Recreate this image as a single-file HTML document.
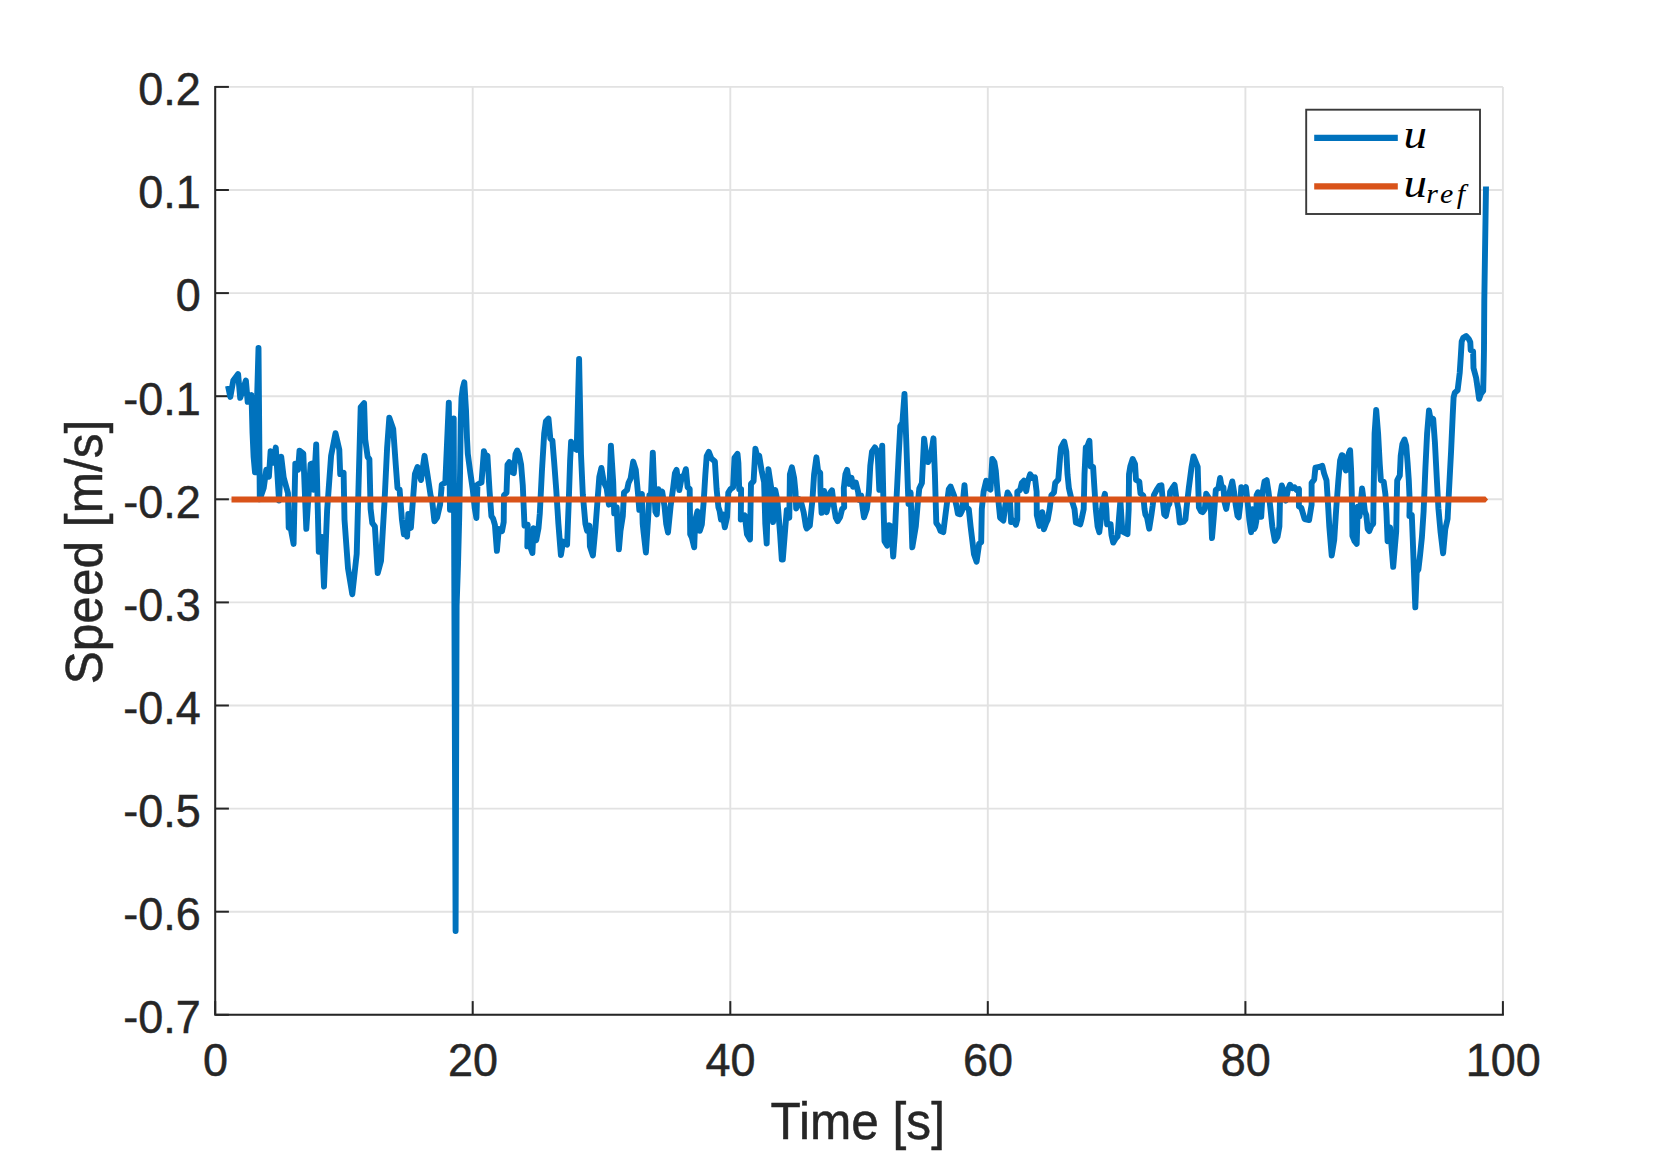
<!DOCTYPE html>
<html><head><meta charset="utf-8"><title>Speed plot</title>
<style>
html,body{margin:0;padding:0;background:#fff;}
body{width:1661px;height:1151px;overflow:hidden;}
svg{display:block;}
text{font-family:"Liberation Sans",sans-serif;fill:#262626;stroke:#262626;stroke-width:0.45px;}
.tk text{font-size:45px;}
.lb{font-size:49.6px;}
.lg text{font-family:"Liberation Serif",serif;font-style:italic;fill:#000;stroke:none;}
</style></head><body>
<svg width="1661" height="1151" viewBox="0 0 1661 1151">
<rect width="1661" height="1151" fill="#fff"/>
<g stroke="#e2e2e2" stroke-width="1.9" fill="none"><line x1="215.2" y1="86.9" x2="215.2" y2="1014.8"/><line x1="472.7" y1="86.9" x2="472.7" y2="1014.8"/><line x1="730.3" y1="86.9" x2="730.3" y2="1014.8"/><line x1="987.8" y1="86.9" x2="987.8" y2="1014.8"/><line x1="1245.4" y1="86.9" x2="1245.4" y2="1014.8"/><line x1="1502.9" y1="86.9" x2="1502.9" y2="1014.8"/><line x1="215.2" y1="86.9" x2="1502.9" y2="86.9"/><line x1="215.2" y1="190.0" x2="1502.9" y2="190.0"/><line x1="215.2" y1="293.1" x2="1502.9" y2="293.1"/><line x1="215.2" y1="396.2" x2="1502.9" y2="396.2"/><line x1="215.2" y1="499.3" x2="1502.9" y2="499.3"/><line x1="215.2" y1="602.4" x2="1502.9" y2="602.4"/><line x1="215.2" y1="705.5" x2="1502.9" y2="705.5"/><line x1="215.2" y1="808.6" x2="1502.9" y2="808.6"/><line x1="215.2" y1="911.7" x2="1502.9" y2="911.7"/><line x1="215.2" y1="1014.8" x2="1502.9" y2="1014.8"/></g>
<g stroke="#262626" stroke-width="2" fill="none"><line x1="215.2" y1="1014.8" x2="215.2" y2="1001.1"/><line x1="472.7" y1="1014.8" x2="472.7" y2="1001.1"/><line x1="730.3" y1="1014.8" x2="730.3" y2="1001.1"/><line x1="987.8" y1="1014.8" x2="987.8" y2="1001.1"/><line x1="1245.4" y1="1014.8" x2="1245.4" y2="1001.1"/><line x1="1502.9" y1="1014.8" x2="1502.9" y2="1001.1"/><line x1="215.2" y1="86.9" x2="228.9" y2="86.9"/><line x1="215.2" y1="190.0" x2="228.9" y2="190.0"/><line x1="215.2" y1="293.1" x2="228.9" y2="293.1"/><line x1="215.2" y1="396.2" x2="228.9" y2="396.2"/><line x1="215.2" y1="499.3" x2="228.9" y2="499.3"/><line x1="215.2" y1="602.4" x2="228.9" y2="602.4"/><line x1="215.2" y1="705.5" x2="228.9" y2="705.5"/><line x1="215.2" y1="808.6" x2="228.9" y2="808.6"/><line x1="215.2" y1="911.7" x2="228.9" y2="911.7"/><line x1="215.2" y1="1014.8" x2="228.9" y2="1014.8"/>
<path d="M215.2,86.9 V1014.8 H1502.9" stroke-linecap="square"/></g>
<g class="tk"><text transform="translate(215.5,1075.8) scale(1,1.025)" text-anchor="middle">0</text><text transform="translate(473.0,1075.8) scale(1,1.025)" text-anchor="middle">20</text><text transform="translate(730.6,1075.8) scale(1,1.025)" text-anchor="middle">40</text><text transform="translate(988.1,1075.8) scale(1,1.025)" text-anchor="middle">60</text><text transform="translate(1245.7,1075.8) scale(1,1.025)" text-anchor="middle">80</text><text transform="translate(1503.2,1075.8) scale(1,1.025)" text-anchor="middle">100</text><text transform="translate(200.8,105.2) scale(1,1.025)" text-anchor="end">0.2</text><text transform="translate(200.8,208.3) scale(1,1.025)" text-anchor="end">0.1</text><text transform="translate(200.8,311.4) scale(1,1.025)" text-anchor="end">0</text><text transform="translate(200.8,414.5) scale(1,1.025)" text-anchor="end">-0.1</text><text transform="translate(200.8,517.6) scale(1,1.025)" text-anchor="end">-0.2</text><text transform="translate(200.8,620.7) scale(1,1.025)" text-anchor="end">-0.3</text><text transform="translate(200.8,723.8) scale(1,1.025)" text-anchor="end">-0.4</text><text transform="translate(200.8,826.9) scale(1,1.025)" text-anchor="end">-0.5</text><text transform="translate(200.8,930.0) scale(1,1.025)" text-anchor="end">-0.6</text><text transform="translate(200.8,1033.1) scale(1,1.025)" text-anchor="end">-0.7</text></g>
<text class="lb" transform="translate(857.7,1138.6) scale(1,1.045)" text-anchor="middle">Time [s]</text>
<text class="lb" transform="translate(102.2,552) rotate(-90) scale(1,1.045)" text-anchor="middle">Speed [m/s]</text>
<path d="M228.0,385.8 L230.3,396.9 L233.3,380.5 L238.1,374.1 L240.2,397.9 L245.9,380.5 L247.7,401.9 L251.5,395.0 L252.5,432.3 L253.6,456.7 L255.0,472.3 L258.5,348.0 L259.8,499.4 L263.7,488.0 L266.3,469.7 L268.9,476.7 L270.6,451.1 L273.2,462.8 L275.8,447.6 L279.0,500.5 L281.2,456.7 L283.7,477.5 L288.0,493.2 L288.7,527.9 L290.8,528.8 L293.6,543.9 L295.3,463.6 L298.1,469.7 L299.5,450.6 L303.3,453.5 L306.3,528.8 L310.6,464.0 L312.9,463.3 L313.7,489.7 L316.2,444.5 L318.8,551.8 L321.9,537.0 L324.0,586.5 L327.1,510.6 L331.1,455.8 L335.5,433.2 L339.3,449.7 L340.2,474.1 L343.6,472.7 L344.5,519.6 L348.0,568.3 L352.3,594.3 L356.7,554.0 L358.4,491.4 L360.7,407.1 L364.1,403.1 L365.2,439.3 L367.6,456.7 L369.4,459.3 L370.6,508.8 L372.3,523.1 L374.9,526.6 L377.7,573.1 L381.0,561.0 L384.5,502.2 L387.1,448.0 L389.3,417.6 L393.2,428.9 L395.8,465.4 L397.5,488.0 L399.6,489.4 L401.9,519.3 L403.9,534.4 L405.3,530.6 L407.1,536.6 L408.3,514.0 L410.9,527.9 L412.3,508.8 L414.9,474.1 L417.5,467.1 L421.0,480.1 L424.5,455.8 L427.4,474.1 L430.5,494.9 L432.3,501.9 L434.4,521.3 L437.1,517.5 L440.1,504.5 L441.8,484.5 L445.3,482.7 L448.8,402.8 L450.0,509.7 L453.7,418.4 L455.6,931.0 L456.6,606.0 L458.0,565.0 L459.2,518.0 L460.1,470.0 L460.7,423.0 L461.5,398.0 L462.8,388.0 L464.3,382.3 L466.0,410.1 L467.0,438.3 L467.8,453.9 L470.3,472.7 L472.8,489.9 L474.8,508.6 L476.4,518.0 L477.5,484.5 L481.5,482.4 L483.9,451.1 L485.6,456.7 L487.4,455.8 L489.6,491.4 L491.4,516.1 L493.1,518.7 L494.9,524.8 L496.9,550.9 L498.8,529.0 L502.0,531.1 L503.7,522.1 L504.0,495.1 L506.5,492.9 L507.5,464.7 L509.3,462.1 L511.0,471.7 L513.8,473.1 L515.5,454.3 L517.2,450.5 L519.0,454.3 L521.1,464.7 L522.8,485.6 L524.5,525.6 L527.7,524.7 L527.3,546.4 L529.4,544.7 L531.0,549.0 L532.4,553.0 L533.6,528.2 L536.2,540.3 L538.5,528.2 L539.8,513.4 L541.9,471.7 L544.2,433.4 L545.9,421.3 L548.5,418.7 L550.3,438.6 L552.4,440.4 L554.1,461.2 L556.2,489.1 L558.4,523.8 L560.2,546.4 L560.9,555.1 L563.1,541.6 L567.1,544.7 L568.7,503.0 L570.1,461.2 L571.1,441.8 L574.1,448.2 L576.7,449.9 L579.1,359.0 L581.0,454.3 L582.8,494.3 L585.4,523.8 L587.1,530.8 L589.4,525.6 L589.9,546.4 L592.9,555.5 L595.5,527.3 L597.6,499.5 L599.3,476.9 L601.4,467.9 L603.8,482.1 L606.6,488.2 L608.9,504.7 L610.9,445.6 L613.2,482.1 L614.2,513.4 L616.7,507.3 L617.7,530.8 L618.9,549.4 L620.5,530.8 L622.8,516.0 L624.0,492.5 L627.1,489.9 L628.5,483.0 L630.6,478.6 L633.2,461.6 L635.8,469.9 L637.9,492.5 L639.3,509.9 L641.9,493.9 L642.7,523.8 L643.6,532.5 L645.9,552.5 L648.0,520.3 L649.4,495.1 L650.9,496.9 L652.8,452.6 L654.4,492.5 L655.4,511.7 L656.8,514.3 L658.4,489.1 L660.1,494.3 L662.2,491.7 L664.5,506.4 L666.2,523.8 L668.0,532.5 L670.6,506.4 L673.2,487.3 L674.9,473.4 L676.6,469.9 L679.3,490.1 L681.9,476.5 L684.1,475.2 L685.9,469.2 L687.6,487.3 L689.7,489.1 L690.2,534.3 L691.9,537.7 L694.2,547.3 L695.2,520.3 L697.5,511.3 L699.8,530.8 L701.8,524.7 L703.6,503.0 L705.3,475.2 L706.7,456.0 L708.8,451.9 L711.4,458.6 L714.9,461.6 L716.6,489.1 L718.4,507.3 L719.6,510.8 L721.0,519.5 L722.7,514.3 L724.8,527.3 L727.1,516.9 L728.3,492.5 L730.5,489.1 L733.1,487.3 L734.5,457.8 L737.5,453.9 L738.4,463.0 L739.2,489.1 L741.1,489.1 L740.8,519.5 L744.8,515.5 L747.0,534.3 L750.0,539.5 L751.0,483.8 L753.6,481.2 L755.4,448.7 L757.5,457.8 L759.2,455.7 L761.8,471.7 L764.1,482.1 L765.3,523.8 L766.7,543.5 L768.4,469.2 L771.4,489.1 L773.1,522.1 L775.2,489.9 L777.5,501.2 L780.1,534.3 L781.8,559.5 L782.8,559.5 L785.4,526.4 L786.8,509.9 L789.3,517.7 L789.9,474.3 L791.9,467.3 L794.1,477.8 L795.5,491.7 L796.2,508.5 L799.0,499.0 L801.1,502.1 L803.7,512.5 L805.9,526.4 L806.8,528.5 L809.8,525.6 L812.4,500.4 L814.1,474.3 L816.4,457.3 L818.1,470.8 L820.2,472.9 L820.5,491.7 L821.6,512.9 L824.2,491.0 L826.6,512.2 L828.9,502.1 L830.3,492.5 L832.0,490.3 L834.1,507.3 L835.8,517.7 L837.6,521.2 L840.2,516.9 L842.1,509.1 L844.2,507.3 L843.8,488.2 L845.4,474.3 L847.1,469.9 L849.4,483.9 L851.5,477.8 L853.0,486.8 L855.8,482.5 L858.1,491.7 L859.1,500.0 L861.2,495.5 L862.8,509.1 L864.0,517.4 L866.8,509.1 L868.9,491.7 L870.3,465.6 L872.0,451.7 L874.9,447.4 L877.6,451.7 L879.3,489.9 L882.2,445.6 L883.6,509.1 L884.5,541.2 L887.1,545.6 L888.9,525.2 L891.1,526.4 L893.2,556.5 L894.9,533.4 L896.0,509.1 L898.6,456.9 L900.3,426.0 L902.4,422.5 L904.5,394.0 L906.2,439.5 L908.0,491.7 L908.5,503.8 L910.6,492.5 L912.3,547.3 L915.8,526.4 L917.9,502.1 L919.3,488.5 L921.9,483.0 L924.1,438.7 L925.9,453.4 L928.0,462.1 L930.6,456.9 L933.5,438.3 L934.9,474.3 L936.3,523.0 L938.7,526.4 L940.5,530.8 L943.3,532.2 L946.2,509.1 L948.8,489.1 L950.6,486.5 L954.0,495.2 L956.6,506.5 L957.9,513.6 L960.3,514.3 L962.0,510.8 L964.5,485.1 L966.2,507.3 L968.8,509.1 L970.6,526.4 L974.0,554.3 L976.6,561.7 L979.1,543.8 L981.2,542.1 L981.8,509.1 L983.6,491.7 L986.2,480.7 L988.5,488.2 L990.5,489.6 L992.3,459.0 L994.4,462.1 L995.8,470.8 L997.5,491.7 L1000.1,517.7 L1003.4,520.5 L1005.3,505.6 L1007.6,492.4 L1009.7,496.0 L1011.1,522.1 L1013.7,520.9 L1015.9,524.7 L1017.3,519.5 L1017.3,491.7 L1020.1,489.9 L1021.8,483.0 L1023.9,480.7 L1026.2,491.2 L1027.9,481.2 L1030.2,474.3 L1032.6,478.1 L1034.9,477.2 L1036.6,491.7 L1036.8,515.1 L1039.4,525.9 L1042.3,512.2 L1043.9,529.2 L1046.2,523.0 L1047.7,519.8 L1049.6,509.1 L1051.4,495.2 L1054.0,492.5 L1055.2,483.0 L1058.3,479.5 L1060.1,456.9 L1061.1,447.4 L1064.2,441.6 L1066.3,451.7 L1067.5,474.3 L1068.9,488.2 L1071.5,499.5 L1072.9,503.8 L1074.5,509.1 L1075.9,522.6 L1080.2,524.4 L1081.9,517.7 L1083.7,509.1 L1084.5,474.3 L1085.8,447.4 L1087.3,446.5 L1089.4,440.7 L1090.6,466.5 L1093.1,467.0 L1094.1,483.0 L1095.8,509.1 L1097.6,526.4 L1099.3,532.2 L1101.1,517.7 L1102.8,502.1 L1104.9,493.8 L1106.3,509.1 L1107.1,524.4 L1110.6,524.2 L1111.5,535.1 L1113.2,542.6 L1115.8,538.3 L1117.6,536.5 L1119.0,517.7 L1120.4,500.7 L1122.3,531.3 L1127.5,534.1 L1128.7,509.1 L1129.0,474.3 L1130.3,466.5 L1132.7,459.0 L1135.0,463.9 L1136.0,479.9 L1139.3,481.6 L1140.5,493.4 L1143.3,495.5 L1144.5,509.1 L1145.4,514.6 L1147.1,517.7 L1149.2,528.7 L1151.5,514.3 L1152.7,505.6 L1153.9,495.2 L1156.7,489.9 L1159.3,485.9 L1161.4,485.2 L1162.8,500.4 L1164.2,514.3 L1165.9,516.0 L1168.0,505.9 L1169.4,503.8 L1170.1,491.7 L1172.3,488.2 L1174.6,484.9 L1176.7,500.4 L1178.4,509.1 L1179.8,522.6 L1183.6,521.7 L1185.4,519.5 L1186.4,509.1 L1188.8,488.2 L1191.5,467.3 L1193.5,456.4 L1195.8,462.1 L1197.7,466.8 L1198.4,491.7 L1198.9,507.3 L1201.0,511.3 L1202.7,512.2 L1204.8,509.1 L1206.2,493.8 L1209.0,498.3 L1210.9,509.1 L1212.0,538.1 L1214.0,514.3 L1215.8,489.9 L1218.4,488.2 L1220.1,477.9 L1221.9,488.2 L1223.4,487.3 L1224.5,502.1 L1226.2,508.9 L1228.0,498.6 L1229.7,491.7 L1232.3,481.4 L1234.0,491.7 L1235.8,505.6 L1237.5,515.7 L1238.7,517.4 L1240.1,505.6 L1241.3,487.2 L1243.6,490.3 L1245.9,487.2 L1247.6,502.1 L1249.3,519.5 L1251.1,532.2 L1252.5,509.1 L1254.2,529.0 L1255.2,527.0 L1256.3,521.2 L1256.6,495.2 L1258.0,492.2 L1260.1,516.9 L1261.2,516.9 L1262.7,491.7 L1264.5,481.6 L1266.7,480.2 L1268.5,491.7 L1270.5,509.1 L1272.3,526.4 L1274.9,540.9 L1277.5,536.9 L1279.4,526.4 L1280.1,495.2 L1281.8,485.4 L1284.1,491.7 L1285.8,500.7 L1287.9,489.9 L1290.0,484.7 L1292.3,488.2 L1294.5,487.2 L1296.6,489.9 L1299.0,489.1 L1298.9,506.5 L1301.3,507.8 L1304.6,519.0 L1309.1,520.0 L1311.6,504.7 L1311.6,483.0 L1314.2,479.5 L1315.4,467.7 L1319.2,467.0 L1322.3,465.9 L1324.1,473.4 L1326.5,480.4 L1327.9,502.1 L1329.3,526.4 L1331.7,555.6 L1334.2,540.0 L1336.2,509.1 L1338.3,481.2 L1340.1,460.4 L1341.8,455.2 L1342.8,455.5 L1344.6,466.5 L1345.9,470.5 L1347.5,463.0 L1348.9,452.9 L1350.1,450.3 L1351.2,471.7 L1352.0,502.9 L1352.4,536.0 L1354.5,541.2 L1356.7,543.8 L1357.8,506.8 L1359.5,516.5 L1360.7,502.9 L1362.1,488.5 L1363.7,501.2 L1364.9,511.6 L1366.3,515.1 L1367.7,529.0 L1369.2,531.1 L1371.5,525.5 L1373.2,523.8 L1373.6,494.3 L1374.6,433.4 L1376.2,410.0 L1378.1,433.4 L1379.8,464.7 L1380.9,480.4 L1383.7,481.6 L1385.4,494.3 L1386.4,511.6 L1387.6,541.2 L1390.1,527.3 L1391.5,546.4 L1393.2,566.9 L1394.9,546.4 L1396.2,531.6 L1396.7,502.9 L1397.2,480.4 L1399.8,475.5 L1400.7,456.0 L1402.4,443.9 L1404.5,439.5 L1406.2,445.6 L1407.6,463.0 L1408.8,480.4 L1409.7,501.2 L1409.4,516.0 L1411.8,515.1 L1412.7,537.7 L1415.3,607.3 L1416.7,572.1 L1418.4,569.5 L1420.1,554.8 L1421.9,537.4 L1423.6,511.6 L1425.4,468.2 L1427.1,433.4 L1429.0,410.5 L1430.9,421.3 L1433.2,419.0 L1434.9,442.1 L1436.7,476.9 L1438.4,508.2 L1440.6,532.5 L1443.1,553.3 L1445.3,529.0 L1447.6,518.9 L1448.8,494.3 L1451.1,450.8 L1452.7,415.6 L1453.6,397.3 L1454.8,392.7 L1457.6,390.3 L1459.7,373.0 L1460.9,354.7 L1461.7,341.4 L1463.3,337.7 L1466.1,336.0 L1468.8,338.9 L1470.3,342.3 L1470.7,350.1 L1473.1,351.3 L1473.5,368.1 L1476.1,377.8 L1477.9,390.0 L1479.1,398.9 L1481.0,393.7 L1483.2,390.9 L1483.6,373.0 L1484.0,348.7 L1484.3,300.0 L1486.0,186.5" fill="none" stroke="#0072bd" stroke-width="5.9" stroke-linejoin="round" stroke-linecap="butt"/>
<path d="M231.5,496.45 H1485.4 L1488.1,499.45 L1485.4,502.45 H231.5 Z" fill="#d95319"/>
<g class="lg">
<rect x="1306.2" y="109.7" width="173.8" height="104.3" fill="#fff" stroke="#3a3a3a" stroke-width="1.9"/>
<line x1="1314.2" y1="137.8" x2="1397.8" y2="137.8" stroke="#0072bd" stroke-width="6.2"/>
<line x1="1314.2" y1="186.4" x2="1397.8" y2="186.4" stroke="#d95319" stroke-width="6.2"/>
<text transform="translate(1403.5,148) scale(1.12,0.955)" font-size="42">u</text>
<text transform="translate(1403.5,196.6) scale(1.12,0.955)" font-size="42">u</text>
<text transform="translate(1426.3,202.6) scale(1.03,0.95)" font-size="29" letter-spacing="3.2">ref</text>
</g>
</svg>
</body></html>
